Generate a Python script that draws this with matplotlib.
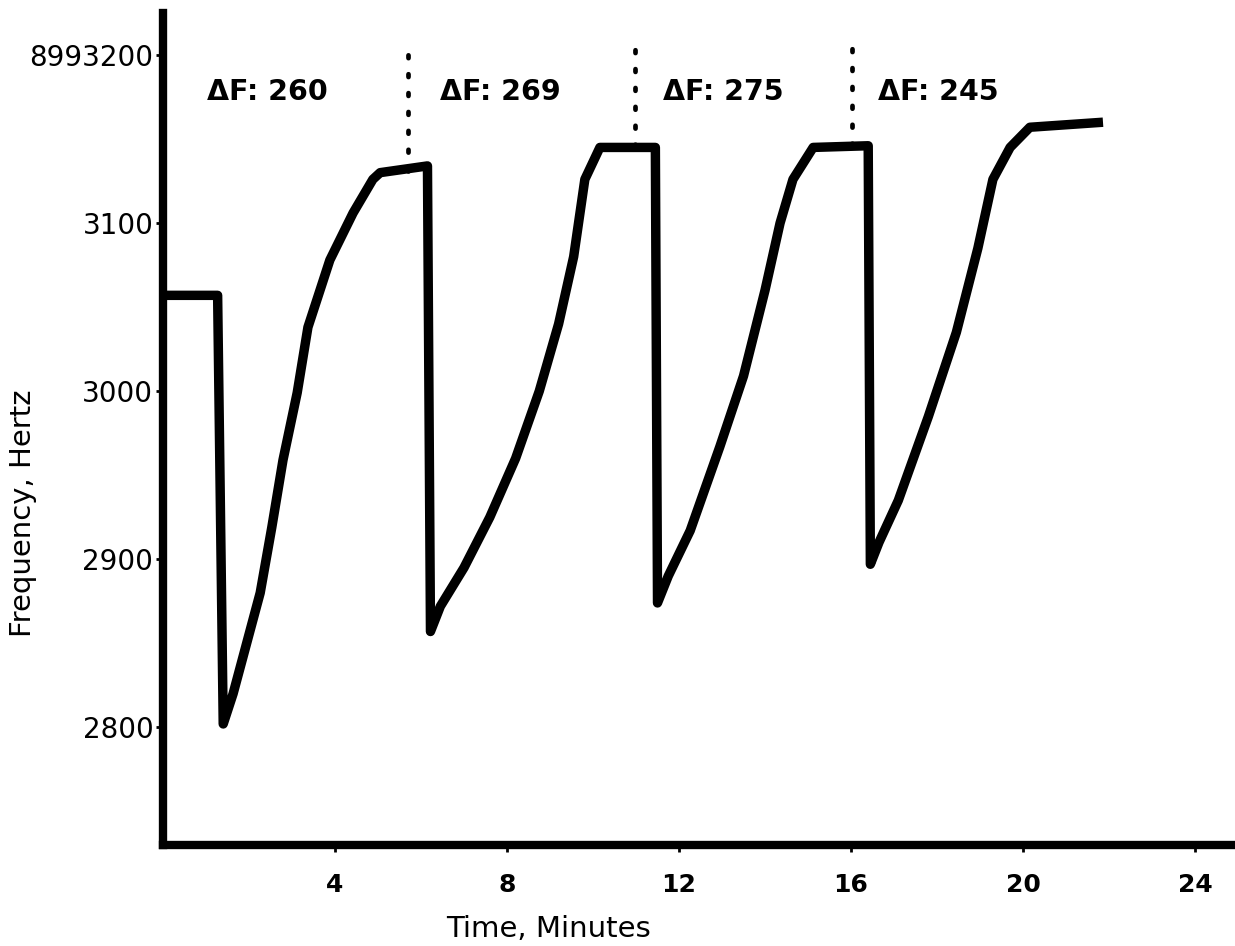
import matplotlib
matplotlib.use("Agg")
import matplotlib.pyplot as plt

# frequency trace (time in minutes, frequency in Hz)
time_min = [0.0, 1.27, 1.40, 1.63, 2.26, 2.53, 2.79, 3.12, 3.37, 3.88, 4.42, 4.88, 5.05, 6.15,
            6.22, 6.45, 7.00, 7.60, 8.20, 8.75, 9.20, 9.55, 9.81, 10.16, 11.45,
            11.50, 11.75, 12.26, 12.95, 13.50, 14.00, 14.35, 14.65, 15.12, 16.40,
            16.45, 16.65, 17.10, 17.80, 18.45, 18.95, 19.30, 19.70, 20.16, 21.86]
freq_hz = [3057, 3057, 2802, 2820, 2880, 2919, 2959, 2999, 3038, 3078, 3106, 3126, 3130, 3134,
           2857, 2872, 2895, 2925, 2960, 3000, 3040, 3080, 3126, 3145, 3145,
           2874, 2890, 2917, 2967, 3009, 3060, 3100, 3126, 3145, 3146,
           2897, 2910, 2935, 2985, 3035, 3085, 3126, 3145, 3157, 3160]

# dotted markers before each step, and the step sizes
marker_times = [5.70, 10.98, 16.02]
marker_tops = [3208, 3212, 3205]
marker_bottoms = [3131, 3145, 3146]
delta_f = [260, 269, 275, 245]
label_times = [1.02, 6.44, 11.63, 16.63]
label_freq = 3178

x_ticks = [4, 8, 12, 16, 20, 24]
y_ticks = [2800, 2900, 3000, 3100, 3200]
y_labels = ["2800", "2900", "3000", "3100", "8993200"]

plt.rcParams.update({
    "font.family": "DejaVu Sans",
    "figure.facecolor": "white",
    "axes.facecolor": "white",
})

fig = plt.figure(figsize=(12.35, 9.46), dpi=100)
ax = fig.add_axes([0.132, 0.1068, 0.868, 0.8795])

ax.plot(time_min, freq_hz, color="black", linewidth=6.8,
        solid_joinstyle="round", solid_capstyle="butt", clip_on=False, zorder=3)

for t, top, bot in zip(marker_times, marker_tops, marker_bottoms):
    ax.plot([t, t], [bot, top], color="black", linewidth=3.4,
            linestyle=(0, (0.6, 3.4)), dash_capstyle="round", zorder=2)

for t, df in zip(label_times, delta_f):
    ax.text(t, label_freq, f"\u0394F: {df}", fontsize=20.5, fontweight="bold",
            ha="left", va="center")

ax.set_xlim(0, 24.93)
ax.set_ylim(2730, 3225)

for side in ["top", "right"]:
    ax.spines[side].set_visible(False)
for side in ["left", "bottom"]:
    ax.spines[side].set_linewidth(6)

ax.set_xticks(x_ticks)
ax.set_xticklabels([str(v) for v in x_ticks], fontsize=18, fontweight="bold")
ax.set_yticks(y_ticks)
ax.set_yticklabels(y_labels, fontsize=20)
ax.tick_params(axis="both", direction="out", length=5, width=2)
ax.tick_params(axis="x", pad=15)
ax.tick_params(axis="y", pad=2)

ax.set_xlabel("Time, Minutes", fontsize=21)
ax.xaxis.set_label_coords(0.36, -0.084)
ax.set_ylabel("Frequency, Hertz", fontsize=21)
ax.yaxis.set_label_coords(-0.118, 0.399)

fig.savefig("out.png", dpi=100)
